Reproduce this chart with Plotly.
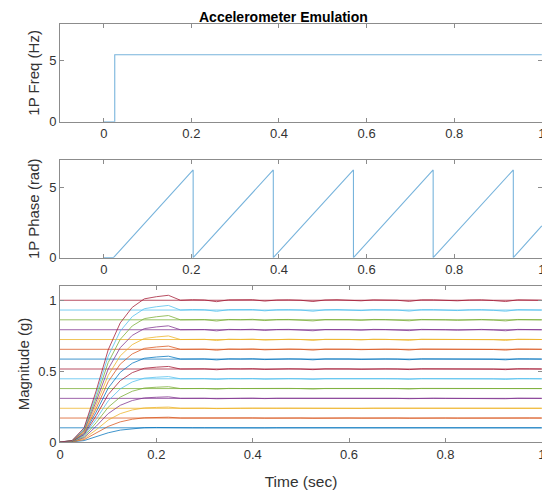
import plotly.graph_objects as go

# ---------------- data ----------------
freq_t = [0.0, 0.025, 0.025, 1.0]
freq_v = [0.0, 0.0, 5.48, 5.48]

phase_t = [0.0, 0.022, 0.204, 0.204, 0.387, 0.387, 0.570, 0.570, 0.752, 0.752, 0.935, 0.935, 1.0]
phase_v = [0.0, 0.0, 6.28, 0.0, 6.28, 0.0, 6.28, 0.0, 6.28, 0.0, 6.28, 0.0, 2.28]

levels = [0.100, 0.169, 0.238, 0.308, 0.377, 0.446, 0.515, 0.585, 0.654, 0.723,
          0.792, 0.862, 0.931, 1.000]

resp_t = [0.000, 0.025, 0.050, 0.075, 0.100, 0.125, 0.150, 0.175, 0.200, 0.225,
          0.250, 0.275, 0.300, 0.325, 0.350, 0.375, 0.400, 0.425, 0.450, 0.475,
          0.500, 0.525, 0.550, 0.575, 0.600, 0.625, 0.650, 0.675, 0.700, 0.725,
          0.750, 0.775, 0.800, 0.825, 0.850, 0.875, 0.900, 0.925, 0.950, 0.975, 1.000]
# normalized response (fraction of commanded level)
resp_norm = [0.000, 0.010, 0.100, 0.360, 0.650, 0.840, 0.950, 1.010, 1.025, 1.035,
             1.000, 1.004, 1.002, 0.990, 1.003, 1.001, 1.004, 0.994, 1.002, 1.003,
             1.000, 0.991, 1.002, 1.004, 1.001, 0.996, 1.003, 1.002, 1.000, 0.992,
             1.003, 1.003, 1.000, 0.996, 1.002, 1.003, 0.998, 0.991, 1.003, 1.002, 1.000]

colors = ["#0072BD", "#D95319", "#EDB120", "#7E2F8E", "#77AC30", "#4DBEEE", "#A2142F"]

xticks = [0, 0.2, 0.4, 0.6, 0.8, 1]
xtick_text = ["0", "0.2", "0.4", "0.6", "0.8", "1"]

# ---------------- figure ----------------
fig = go.Figure()
line_blue = "#78B4DC"

fig.add_trace(go.Scatter(x=freq_t, y=freq_v, mode="lines",
                         line=dict(color=line_blue, width=1.1),
                         xaxis="x", yaxis="y", showlegend=False))
fig.add_trace(go.Scatter(x=phase_t, y=phase_v, mode="lines",
                         line=dict(color=line_blue, width=1.1),
                         xaxis="x2", yaxis="y2", showlegend=False))

for i, lv in enumerate(levels):
    c = colors[i % len(colors)]
    fig.add_trace(go.Scatter(x=[0, 1], y=[lv, lv], mode="lines",
                             line=dict(color=c, width=1), opacity=0.75,
                             xaxis="x3", yaxis="y3", showlegend=False))
for i, lv in enumerate(levels):
    c = colors[i % len(colors)]
    fig.add_trace(go.Scatter(x=resp_t, y=[lv * v for v in resp_norm], mode="lines",
                             line=dict(color=c, width=1), opacity=0.75,
                             xaxis="x3", yaxis="y3", showlegend=False))

axis_common = dict(showline=True, linecolor="#8c8c8c", linewidth=1, mirror="ticks",
                   ticks="inside", ticklen=4, tickcolor="#8c8c8c", showgrid=False,
                   zeroline=False, automargin=False,
                   tickfont=dict(family="Arial, Liberation Sans", size=13, color="#333333"))
ytitle_font = dict(family="Arial, Liberation Sans", size=15, color="#333333")
xtitle_font = dict(family="Arial, Liberation Sans", size=15.5, color="#333333")

# page body has an 8px default margin; figure is sized to compensate
L, R, T, B = 52, 8, 16, 52
W, H = 542, 486
pw = W - L - R
ph = H - T - B

fig.update_layout(
    width=W, height=H,
    margin=dict(l=L, r=R, t=T, b=B, autoexpand=False),
    paper_bgcolor="white", plot_bgcolor="white",
    xaxis=dict(domain=[0, 1], range=[-0.1, 1.0005], tickvals=xticks, ticktext=xtick_text,
               anchor="y", **axis_common),
    yaxis=dict(domain=[0.766, 1.0], range=[0, 8], tickvals=[0, 5], anchor="x",
               title=dict(text="1P Freq (Hz)", font=ytitle_font, standoff=5), **axis_common),
    xaxis2=dict(domain=[0, 1], range=[-0.1, 1.0005], tickvals=xticks, ticktext=xtick_text,
                anchor="y2", **axis_common),
    yaxis2=dict(domain=[0.441, 0.675], range=[0, 7], tickvals=[0, 5], anchor="x2",
                title=dict(text="1P Phase (rad)", font=ytitle_font, standoff=5), **axis_common),
    xaxis3=dict(domain=[0, 1], range=[0, 1.0005], tickvals=xticks, ticktext=xtick_text,
                anchor="y3", title=dict(text="Time (sec)", font=xtitle_font, standoff=15),
                **axis_common),
    yaxis3=dict(domain=[0, 0.373], range=[0, 1.1], tickvals=[0, 0.5, 1],
                ticktext=["0", "0.5", "1"], anchor="x3",
                title=dict(text="Magnitude (g)", font=ytitle_font, standoff=5), **axis_common),
    annotations=[dict(text="<b>Accelerometer Emulation</b>",
                      x=(275 - L) / pw, y=(H - B) / ph,
                      xref="paper", yref="paper", showarrow=False,
                      xanchor="center", yanchor="top", borderpad=0,
                      font=dict(family="Arial, Liberation Sans", size=14, color="#000000"))],
)

fig.write_html("out.html")
